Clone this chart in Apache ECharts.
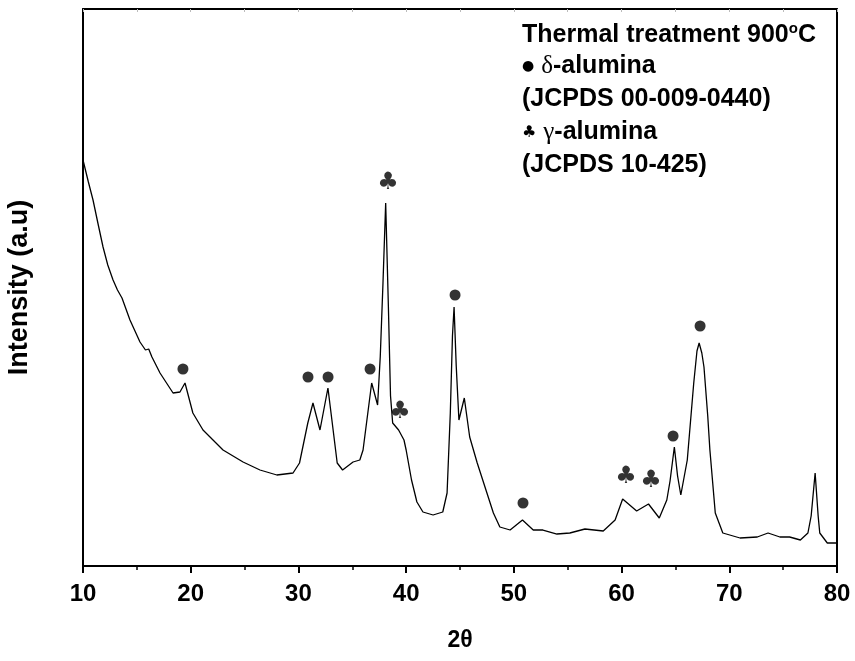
<!DOCTYPE html>
<html>
<head>
<meta charset="utf-8">
<script src="https://cdn.jsdelivr.net/npm/echarts@6/dist/echarts.min.js"></script>
<style>
  html, body { margin: 0; padding: 0; background: #fff; }
  #chart { width: 855px; height: 661px; }
</style>
</head>
<body>
<div id="chart"></div>
<script>
// XRD pattern (2theta, intensity in a.u.)
var twoTheta = [
  10.0, 10.5, 10.93, 11.4, 11.86, 12.3, 12.79, 13.2, 13.62, 14.36, 15.29, 15.8, 16.1, 16.4,
  17.15, 18.36, 19.0, 19.47, 20.2, 21.14, 23.0, 24.86, 26.43, 28.0, 29.5, 30.1, 30.87,
  31.35, 32.0, 32.74, 33.6, 34.1, 35.07, 35.7, 36.0, 36.8, 37.35, 37.6, 37.85, 38.1,
  38.35, 38.55, 38.75, 39.3, 39.8, 40.0, 40.5, 41.0, 41.56, 42.5, 43.4, 43.8, 44.1, 44.3,
  44.45, 44.65, 44.9, 45.4, 45.9, 46.6, 47.5, 48.1, 48.7, 49.65, 50.8, 51.8, 52.7, 54.0,
  55.2, 56.6, 58.3, 59.4, 60.1, 61.4, 62.5, 63.5, 64.2, 64.5, 64.9, 65.2, 65.5, 66.1,
  66.7, 67.0, 67.2, 67.45, 67.65, 68.0, 68.2, 68.7, 69.4, 71.0, 72.6, 73.6, 74.7, 75.6,
  76.6, 77.3, 77.6, 77.97, 78.25, 78.4, 79.1, 80.0
];
var intensity = [
  406, 384, 366, 342, 319, 301, 286, 276, 268, 246, 224, 216, 217, 209,
  193, 173, 174, 183, 153, 136, 116, 104, 96, 91, 93, 103, 143,
  163, 136, 178, 103, 96, 104, 106, 116, 183, 161, 210, 283, 363,
  260, 170, 143, 136, 126, 116, 86, 64, 54, 51, 54, 73, 153, 230,
  259, 200, 146, 168, 129, 103, 73, 53, 39, 36, 46, 36, 36, 32,
  33, 37, 35, 46, 67, 55, 62, 48, 66, 85, 119, 90, 71, 106,
  183, 215, 223, 213, 199, 150, 116, 53, 33, 28, 29, 33, 29, 29,
  26, 33, 50, 93, 50, 33, 23, 23
];

// peak markers
var deltaPeaks = [[19.28, 197], [30.89, 189], [32.75, 189], [36.65, 197], [44.54, 271], [50.85, 63], [64.78, 130], [67.29, 240]];
var gammaPeaks = [[38.32, 383], [39.43, 154], [60.41, 89], [62.73, 85]];

var xTicks = [10, 20, 30, 40, 50, 60, 70, 80];

var legendLines = [
  'Thermal treatment 900{sup|o}C',
  '{dot|●} {g|δ}-alumina',
  '(JCPDS 00-009-0440)',
  '{club|♣} {g|γ}-alumina',
  '(JCPDS 10-425)'
];

var pattern = twoTheta.map(function (t, i) { return [t, intensity[i]]; });

var chart = echarts.init(document.getElementById('chart'));

var fontMain = 'Liberation Sans, Arial, sans-serif';
var legendRich = {
  sup: { fontSize: 15, fontWeight: 'bold', fontFamily: fontMain, color: '#000', verticalAlign: 'top', padding: [0, 0, 14, 0] },
  dot: { fontSize: 14, fontFamily: 'DejaVu Sans', color: '#000' },
  club: { fontSize: 16, fontFamily: 'DejaVu Sans', color: '#000' },
  g: { fontSize: 25, fontWeight: 'normal', fontFamily: 'Liberation Serif, serif', color: '#000' }
};

chart.setOption({
  animation: false,
  backgroundColor: '#fff',
  grid: { left: 83, right: 18, top: 9, bottom: 95, containLabel: false, outerBoundsMode: 'none' },
  xAxis: [{
    type: 'value',
    min: 10,
    max: 80,
    interval: 10,
    name: '2θ',
    nameLocation: 'middle',
    nameGap: 63,
    nameTextStyle: { fontSize: 23, fontWeight: 'bold', fontFamily: fontMain, color: '#000' },
    axisLine: { onZero: false, lineStyle: { color: '#000', width: 2 } },
    axisTick: { length: 7, lineStyle: { color: '#000', width: 2 } },
    minorTick: { show: true, splitNumber: 2, length: 4, lineStyle: { color: '#000', width: 1.5 } },
    axisLabel: {
      margin: 16,
      fontSize: 24,
      fontWeight: 'bold',
      fontFamily: fontMain,
      color: '#000',
      formatter: function (v) { return xTicks.indexOf(v) >= 0 ? String(v) : ''; }
    },
    splitLine: { show: false }
  }, {
    type: 'value',
    position: 'top',
    min: 10,
    max: 80,
    interval: 5,
    axisLine: { onZero: false, lineStyle: { color: '#000', width: 2 } },
    axisTick: { inside: true, length: 3, lineStyle: { color: '#bbb', width: 1 } },
    axisLabel: { show: false },
    splitLine: { show: false }
  }],
  yAxis: [{
    type: 'value',
    min: 0,
    max: 557,
    name: 'Intensity (a.u)',
    nameLocation: 'middle',
    nameGap: 50,
    nameTextStyle: { fontSize: 27, fontWeight: 'bold', fontFamily: fontMain, color: '#000' },
    axisLine: { show: true, onZero: false, lineStyle: { color: '#000', width: 2 } },
    axisTick: { show: false },
    axisLabel: { show: false },
    splitLine: { show: false }
  }, {
    type: 'value',
    position: 'right',
    min: 0,
    max: 557,
    axisLine: { show: true, onZero: false, lineStyle: { color: '#000', width: 2 } },
    axisTick: { show: false },
    axisLabel: { show: false },
    splitLine: { show: false }
  }],
  series: [{
    type: 'line',
    data: pattern,
    showSymbol: false,
    symbol: 'none',
    lineStyle: { color: '#000', width: 1.3 },
    z: 3
  }, {
    type: 'scatter',
    data: deltaPeaks,
    symbol: 'circle',
    symbolSize: 11,
    itemStyle: { color: '#000' },
    z: 4
  }, {
    type: 'scatter',
    data: gammaPeaks,
    symbolSize: 1,
    itemStyle: { color: 'rgba(0,0,0,0)' },
    label: {
      show: true,
      position: 'inside',
      formatter: '♣',
      fontSize: 24,
      fontFamily: 'DejaVu Sans',
      color: '#000'
    },
    z: 4
  }],
  graphic: legendLines.map(function (line, i) {
    return {
      type: 'text',
      left: 522,
      top: 21 + i * 33,
      z: 10,
      style: {
        text: line,
        font: 'bold 25px ' + fontMain,
        fill: '#000',
        rich: legendRich
      }
    };
  })
});
</script>
</body>
</html>
